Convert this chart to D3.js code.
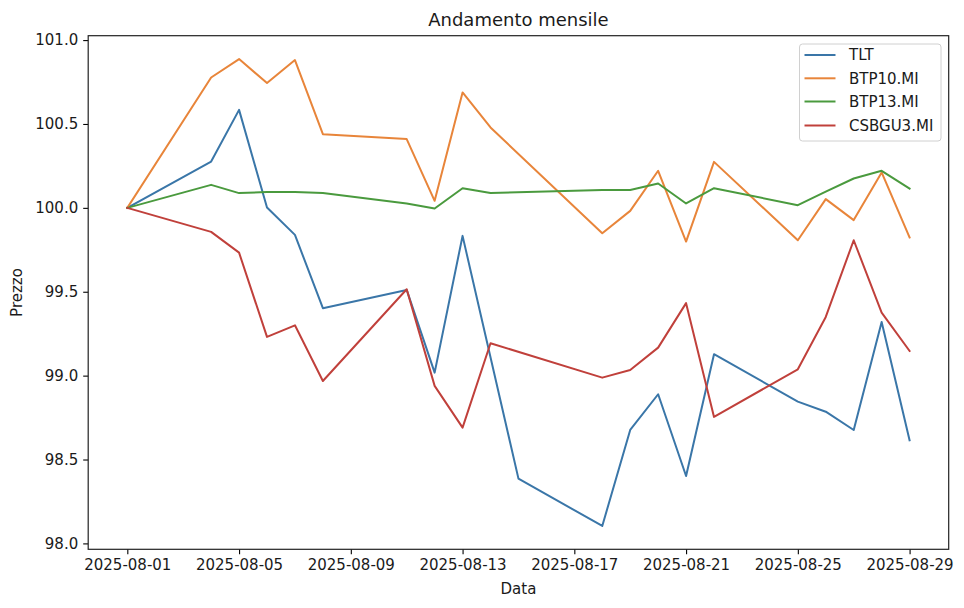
<!DOCTYPE html>
<html>
<head>
<meta charset="utf-8">
<script src="https://cdn.jsdelivr.net/npm/d3@7"></script>
<style>
  html, body { margin: 0; padding: 0; background: #fff; }
  svg { display: block; font-family: "DejaVu Sans", sans-serif; }
</style>
</head>
<body>
<svg id="chart" width="964" height="608"></svg>
<script>
// ---- data ----
const datesMI = ["2025-08-01","2025-08-04","2025-08-05","2025-08-06","2025-08-07","2025-08-08",
  "2025-08-11","2025-08-12","2025-08-13","2025-08-14","2025-08-18","2025-08-19","2025-08-20",
  "2025-08-21","2025-08-22","2025-08-25","2025-08-26","2025-08-27","2025-08-28","2025-08-29"];
const datesTLT = ["2025-08-01","2025-08-04","2025-08-05","2025-08-06","2025-08-07","2025-08-08",
  "2025-08-11","2025-08-12","2025-08-13","2025-08-15","2025-08-18","2025-08-19","2025-08-20",
  "2025-08-21","2025-08-22","2025-08-25","2025-08-26","2025-08-27","2025-08-28","2025-08-29"];

const seriesNames = ["TLT", "BTP10.MI", "BTP13.MI", "CSBGU3.MI"];
const valuesTLT = [100.0, 100.276, 100.584, 100.002, 99.839, 99.402, 99.511, 99.018, 99.833, 98.386,
  98.104, 98.676, 98.889, 98.402, 99.128, 98.845, 98.785, 98.676, 99.320, 98.615];
const valuesBTP10 = [100.0, 100.777, 100.887, 100.744, 100.881, 100.439, 100.410, 100.042, 100.688, 100.479,
  99.849, 99.982, 100.221, 99.799, 100.274, 99.807, 100.052, 99.927, 100.211, 99.823];
const valuesBTP13 = [100.0, 100.137, 100.088, 100.095, 100.095, 100.088, 100.026, 99.996, 100.117, 100.088,
  100.107, 100.107, 100.145, 100.026, 100.117, 100.016, 100.097, 100.175, 100.221, 100.115];
const valuesCSBGU3 = [100.0, 99.857, 99.733, 99.231, 99.300, 98.968, 99.515, 98.939, 98.690, 99.193,
  98.988, 99.034, 99.167, 99.432, 98.754, 99.038, 99.350, 99.807, 99.376, 99.147];

const xTickLabels = ["2025-08-01","2025-08-05","2025-08-09","2025-08-13","2025-08-17","2025-08-21","2025-08-25","2025-08-29"];
const yTickValues = [98.0, 98.5, 99.0, 99.5, 100.0, 100.5, 101.0];

const colors = ["#3a76a8", "#e8853a", "#4a9a3e", "#c0403b"];

// ---- build ----
const parse = d3.timeParse("%Y-%m-%d");
const series = [
  { name: seriesNames[0], dates: datesTLT, values: valuesTLT },
  { name: seriesNames[1], dates: datesMI, values: valuesBTP10 },
  { name: seriesNames[2], dates: datesMI, values: valuesBTP13 },
  { name: seriesNames[3], dates: datesMI, values: valuesCSBGU3 }
].map((s, i) => ({
  name: s.name, color: colors[i],
  points: s.dates.map((d, j) => ({ date: parse(d), value: s.values[j] }))
}));

const svg = d3.select("#chart");
const plotL = 88.2, plotR = 948.7, plotT = 35.7, plotB = 549.3;

const allPts = series.flatMap(s => s.points);
const [dMin, dMax] = d3.extent(allPts, p => p.date);
const dPad = (dMax - dMin) * 0.05;
const [vMin, vMax] = d3.extent(allPts, p => p.value);
const vPad = (vMax - vMin) * 0.05;

const x = d3.scaleTime()
  .domain([new Date(+dMin - dPad), new Date(+dMax + dPad)])
  .range([plotL, plotR]);
const y = d3.scaleLinear()
  .domain([vMin - vPad, vMax + vPad])
  .range([plotB, plotT]);

// lines
const line = d3.line().x(p => x(p.date)).y(p => y(p.value));
const plot = svg.append("g");
series.forEach(s => {
  plot.append("path")
    .datum(s.points)
    .attr("d", line)
    .attr("fill", "none")
    .attr("stroke", s.color)
    .attr("stroke-width", 2)
    .attr("stroke-linejoin", "round")
    .attr("stroke-linecap", "square");
});

// axes
const fontSize = 15;
const xAxis = d3.axisBottom(x)
  .tickValues(xTickLabels.map(parse))
  .tickFormat(d3.timeFormat("%Y-%m-%d"))
  .tickSizeInner(5).tickSizeOuter(0).tickPadding(5);
const gx = svg.append("g").attr("transform", `translate(0,${plotB})`).call(xAxis);
const yAxis = d3.axisLeft(y)
  .tickValues(yTickValues)
  .tickFormat(d3.format(".1f"))
  .tickSizeInner(5).tickSizeOuter(0).tickPadding(5);
const gy = svg.append("g").attr("transform", `translate(${plotL},0)`).call(yAxis);
[gx, gy].forEach(g => {
  g.select(".domain").remove();
  g.selectAll(".tick line").attr("stroke", "#000").attr("stroke-width", 1.1);
  g.selectAll(".tick text").attr("fill", "#1a1a1a")
    .style("font-family", "DejaVu Sans").style("font-size", fontSize + "px");
});

// frame
svg.append("rect")
  .attr("x", plotL).attr("y", plotT)
  .attr("width", plotR - plotL).attr("height", plotB - plotT)
  .attr("fill", "none").attr("stroke", "#222").attr("stroke-width", 1.2);

// title and labels
svg.append("text").attr("x", (plotL + plotR) / 2).attr("y", 25.5)
  .attr("text-anchor", "middle").attr("fill", "#1a1a1a")
  .style("font-size", "18px").text("Andamento mensile");
svg.append("text").attr("x", (plotL + plotR) / 2).attr("y", 594)
  .attr("text-anchor", "middle").attr("fill", "#1a1a1a")
  .style("font-size", fontSize + "px").text("Data");
svg.append("text")
  .attr("transform", `translate(22,${(plotT + plotB) / 2}) rotate(-90)`)
  .attr("text-anchor", "middle").attr("fill", "#1a1a1a")
  .style("font-size", fontSize + "px").text("Prezzo");

// legend
const lg = svg.append("g");
lg.append("rect").attr("x", 799.5).attr("y", 44).attr("width", 141.5).attr("height", 97)
  .attr("rx", 3).attr("fill", "#fff").attr("fill-opacity", 0.8)
  .attr("stroke", "#d0d0d0").attr("stroke-width", 1);
const rowY = [55, 78.3, 101.5, 125.5];
series.forEach((s, i) => {
  lg.append("line").attr("x1", 804.5).attr("x2", 835.5)
    .attr("y1", rowY[i]).attr("y2", rowY[i])
    .attr("stroke", s.color).attr("stroke-width", 2);
  lg.append("text").attr("x", 849).attr("y", rowY[i] + 5.2)
    .attr("fill", "#1a1a1a").style("font-size", fontSize + "px").text(s.name);
});
</script>
</body>
</html>
